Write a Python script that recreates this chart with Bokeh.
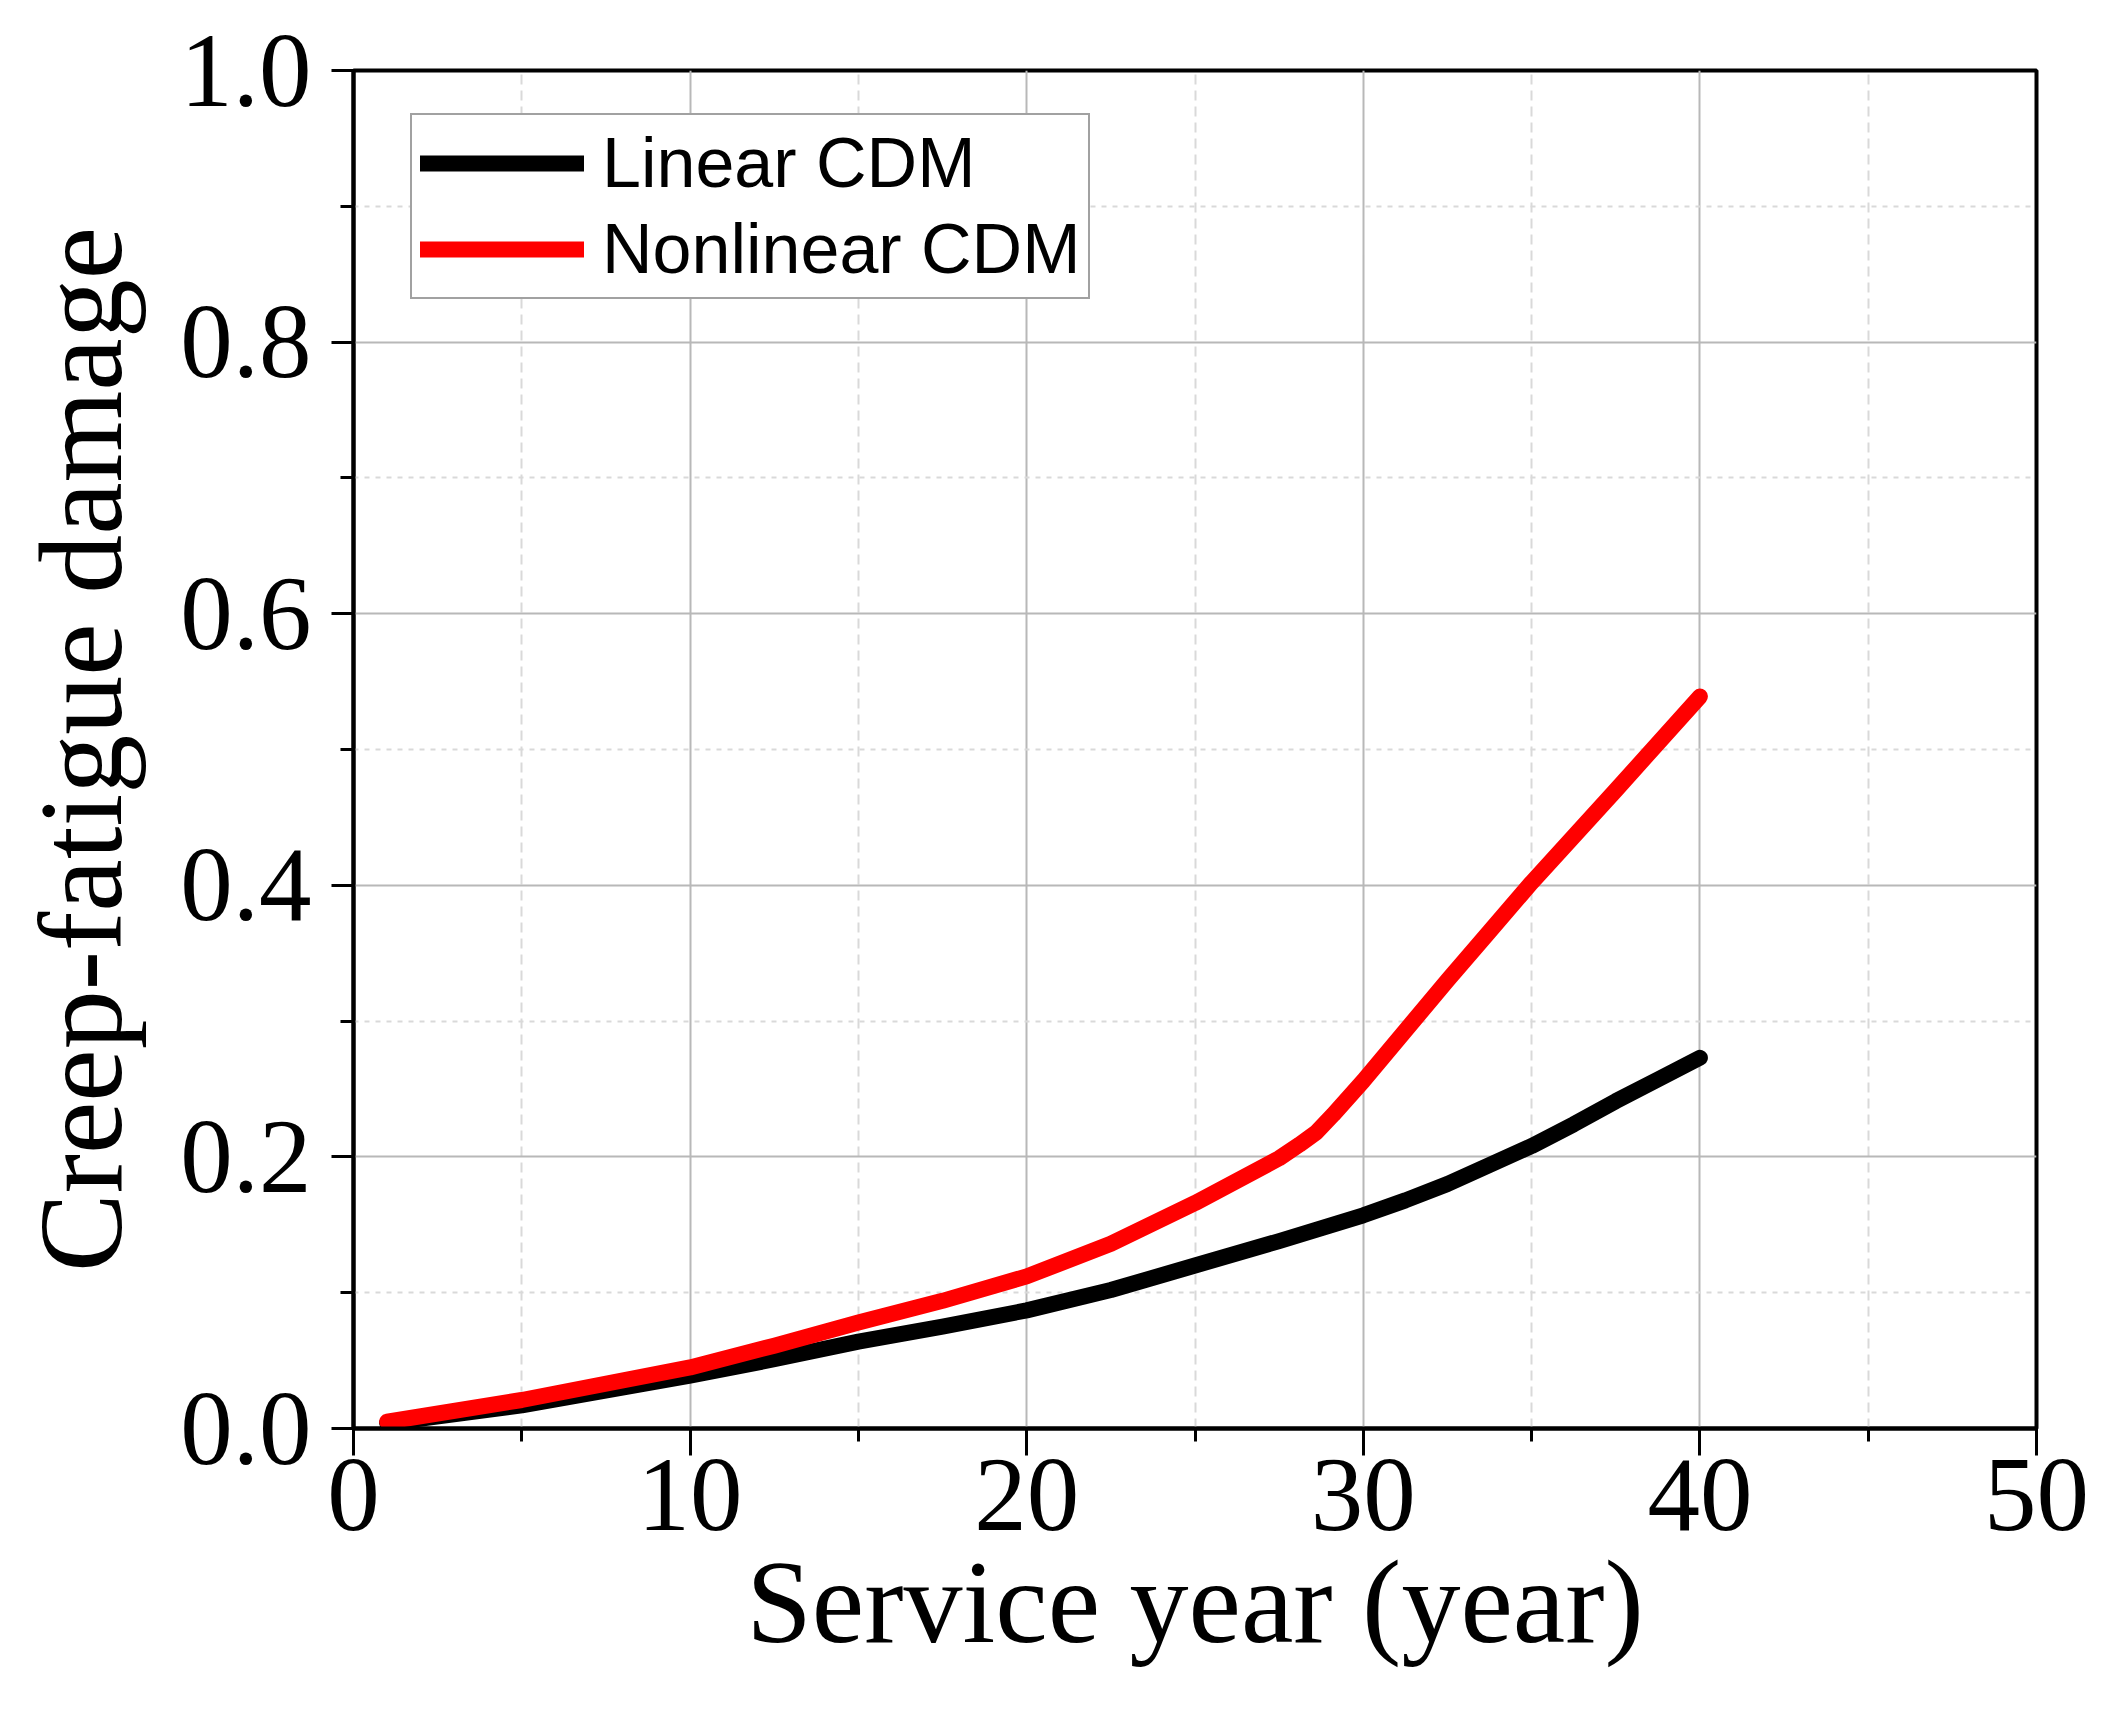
from bokeh.plotting import figure
from bokeh.models import Range1d, FixedTicker, PrintfTickFormatter, Legend, LegendItem
from bokeh.embed import file_html
from bokeh.resources import INLINE

# Data
years_linear = [1, 5, 10, 12.5, 15, 17.5, 20, 22.5, 25, 27.5, 30, 31.25, 32.5, 33.75, 35,
                36.25, 37.5, 38.75, 40]
damage_linear = [0.004, 0.017, 0.039, 0.051, 0.064, 0.075, 0.087, 0.102, 0.120, 0.138, 0.157,
                 0.168, 0.180, 0.194, 0.208, 0.224, 0.241, 0.257, 0.273]

years_nonlinear = [1, 5, 10, 12.5, 15, 17.5, 20, 22.5, 25, 27.5, 28.1, 28.6, 29.1, 30,
                   31.25, 32.5, 33.75, 35, 37.5, 40]
damage_nonlinear = [0.005, 0.021, 0.045, 0.061, 0.078, 0.094, 0.112, 0.136, 0.166, 0.199,
                    0.209, 0.218, 0.231, 0.256, 0.293, 0.330, 0.366, 0.402, 0.470, 0.539]

x_major = [0, 10, 20, 30, 40, 50]
x_minor = [5, 15, 25, 35, 45]
y_major = [0.0, 0.2, 0.4, 0.6, 0.8, 1.0]
y_minor = [0.1, 0.3, 0.5, 0.7, 0.9]

series_labels = ["Linear CDM", "Nonlinear CDM"]
series_colors = ["black", "#ff0000"]

SERIF = "Liberation Serif"
SANS = "Liberation Sans"

p = figure(width=2094, height=1700,
           x_range=Range1d(0, 50), y_range=Range1d(0, 1),
           output_backend="svg", toolbar_location=None,
           min_border_left=353, min_border_right=58,
           min_border_top=70, min_border_bottom=272)

p.background_fill_color = "white"
p.border_fill_color = "white"
p.outline_line_color = "black"
p.outline_line_width = 4

# Axes
p.xaxis.ticker = FixedTicker(ticks=x_major, minor_ticks=x_minor)
p.yaxis.ticker = FixedTicker(ticks=y_major, minor_ticks=y_minor)
p.xaxis.formatter = PrintfTickFormatter(format="%d")
p.yaxis.formatter = PrintfTickFormatter(format="%.1f")

p.xaxis.axis_label = "Service year (year)"
p.yaxis.axis_label = "Creep-fatigue damage"

for ax in (p.xaxis[0], p.yaxis[0]):
    ax.axis_line_color = "black"
    ax.axis_line_width = 4
    ax.major_tick_line_color = "black"
    ax.major_tick_line_width = 3
    ax.minor_tick_line_color = "black"
    ax.minor_tick_line_width = 3
    ax.major_tick_in = 0
    ax.minor_tick_in = 0
    ax.minor_tick_out = 13
    ax.major_label_text_font = SERIF
    ax.major_label_text_font_size = "105px"
    ax.major_label_text_color = "black"
    ax.axis_label_text_font = SERIF
    ax.axis_label_text_font_size = "118px"
    ax.axis_label_text_font_style = "normal"
    ax.axis_label_text_color = "black"

p.xaxis.major_tick_out = 27
p.xaxis.major_label_standoff = 4
p.xaxis.axis_label_standoff = 4
p.yaxis.major_tick_out = 22
p.yaxis.major_label_standoff = 20
p.yaxis.axis_label_standoff = 30

# Grids
for g in (p.xgrid[0], p.ygrid[0]):
    g.grid_line_color = "#b8b8b8"
    g.grid_line_width = 2
    g.minor_grid_line_color = "#d9d9d9"
    g.minor_grid_line_width = 2
p.xgrid.minor_grid_line_dash = "10 6"
p.ygrid.minor_grid_line_dash = "5 6"

# Lines
r1 = p.line(years_linear, damage_linear, line_color=series_colors[0], line_width=16,
            line_cap="round", line_join="round")
r2 = p.line(years_nonlinear, damage_nonlinear, line_color=series_colors[1], line_width=16,
            line_cap="round", line_join="round")

legend = Legend(items=[LegendItem(label=series_labels[0], renderers=[r1]),
                       LegendItem(label=series_labels[1], renderers=[r2])],
                location=(57, 1129))
legend.label_text_font = SANS
legend.label_text_font_size = "70px"
legend.label_text_color = "black"
legend.glyph_width = 164
legend.glyph_height = 40
legend.label_height = 80
legend.label_standoff = 18
legend.padding = 8
legend.spacing = 6
legend.margin = 0
legend.border_line_color = "#444444"
legend.border_line_width = 2
legend.background_fill_color = "white"
legend.background_fill_alpha = 1.0
p.add_layout(legend)

open("out.html", "w").write(file_html(p, INLINE))
